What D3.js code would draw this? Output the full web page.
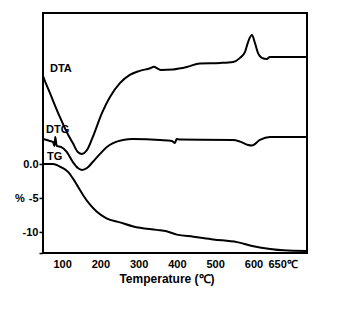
<!DOCTYPE html>
<html lang="en">
<head>
  <meta charset="UTF-8">
  <title>DTA / DTG / TG</title>
  <script src="https://d3js.org/d3.v7.min.js"></script>
  <style>
    body { margin: 0; background: #fff; font-family: "Liberation Sans", Arial, sans-serif; }
    .lbl { font-weight: bold; font-size: 11px; fill: #000; }
    .axis text { font-family: "Liberation Sans", Arial, sans-serif; font-weight: bold; font-size: 11px; fill: #000; }
    .curve { fill: none; stroke: #000; stroke-width: 2; stroke-linejoin: round; }
  </style>
</head>
<body>
  <div id="chart"></div>
  <script>
    // temperature (°C) and signal values
    const dtaT = [50, 52, 68, 94, 112, 128, 141, 152, 165, 180, 204, 225, 251, 277, 301, 330, 340, 350, 358, 390, 426, 460, 513, 547, 565, 578, 586, 596, 604, 612, 622, 635, 643, 740];
    const dtaV = [73.8, 72.9, 66.7, 56.7, 50.4, 45.8, 42.1, 41.3, 42.9, 48.3, 58.3, 65, 70.8, 74.2, 75.8, 77, 77.6, 76.8, 76.3, 76.5, 77.5, 79, 79.2, 79.6, 81.3, 83.8, 87.9, 90.8, 87.5, 83.3, 81.3, 80.8, 81.7, 81.7];

    const dtgT = [50, 68, 76, 80, 82, 86, 97, 112, 128, 141, 152, 165, 180, 199, 217, 233, 259, 285, 356, 387, 395, 399, 408, 547, 565, 586, 596, 617, 643, 740];
    const dtgV = [47.5, 46.7, 46.3, 44.6, 48.3, 44.6, 44.2, 42.1, 37.9, 35.4, 34.6, 35.4, 37.9, 41.3, 44.2, 45.8, 47.1, 47.5, 47.1, 46.7, 45.8, 47.5, 47.3, 47.1, 46.4, 45, 44.8, 47.1, 48.3, 48.3];

    const tgT = [50, 76, 98, 116, 129, 142, 155, 173, 190, 216, 251, 286, 347, 373, 400, 443, 495, 557, 600, 644, 679, 740];
    const tgV = [0, 0, -0.5, -1.2, -2.2, -3.4, -4.6, -6, -7, -8, -8.6, -9.2, -9.7, -9.9, -10.4, -10.7, -11.1, -11.5, -12.1, -12.5, -12.7, -12.8];

    const xTicks = [100, 200, 300, 400, 500, 600, 650];
    const yTicks = [0, -5, -10];

    const W = 353, H = 315;
    const frame = { left: 43, right: 307, top: 13, bottom: 253 };

    const svg = d3.select("#chart").append("svg")
      .attr("width", W)
      .attr("height", H);

    const x = d3.scaleLinear().domain([50, 740]).range([frame.left, frame.right]);
    const yTG = d3.scaleLinear().domain([-13.1, 22.2]).range([frame.bottom, frame.top]);
    // DTA and DTG in arbitrary units
    const yArb = d3.scaleLinear().domain([0, 100]).range([frame.bottom, frame.top]);

    // Y axis (TG %)
    const yAxis = svg.append("g")
      .attr("class", "axis")
      .attr("transform", `translate(${frame.left},0)`)
      .call(d3.axisLeft(yTG).tickValues(yTicks.concat([-13.1])).tickSize(3.5).tickPadding(1)
        .tickFormat(d => d === 0 ? "0.0" : (d === -13.1 ? "" : String(d))));
    yAxis.select(".domain").remove();
    yAxis.selectAll(".tick line").attr("stroke", "#000").attr("stroke-width", 1.5);

    svg.append("text")
      .attr("class", "lbl")
      .attr("x", 15)
      .attr("y", yTG(-5) + 4)
      .text("%");

    // X axis, labels only
    const xAxis = svg.append("g")
      .attr("class", "axis")
      .attr("transform", `translate(0,${frame.bottom})`)
      .call(d3.axisBottom(x).tickValues(xTicks).tickSize(0).tickPadding(7)
        .tickFormat(d => d === 650 ? "650℃" : String(d)));
    xAxis.select(".domain").remove();
    xAxis.selectAll(".tick text").filter(d => d === 650).attr("dx", 10);

    svg.append("text")
      .attr("class", "lbl")
      .style("font-size", "12px")
      .attr("x", (frame.left + frame.right) / 2 - 8)
      .attr("y", 283)
      .attr("text-anchor", "middle")
      .text("Temperature (℃)");

    // curves
    const line = (xs, ys, yScale) => d3.line()
      .x((d, i) => x(xs[i]))
      .y(d => yScale(d))
      .curve(d3.curveMonotoneX)(ys);

    svg.append("path").attr("class", "curve").attr("d", line(dtaT, dtaV, yArb));
    svg.append("path").attr("class", "curve").attr("d", line(dtgT, dtgV, yArb));
    svg.append("path").attr("class", "curve").attr("d", line(tgT, tgV, yTG));

    // frame
    svg.append("rect")
      .attr("x", frame.left)
      .attr("y", frame.top)
      .attr("width", frame.right - frame.left)
      .attr("height", frame.bottom - frame.top)
      .attr("fill", "none")
      .attr("stroke", "#000")
      .attr("stroke-width", 2);

    // curve names
    svg.append("text").attr("class", "lbl").attr("x", 50).attr("y", 72).text("DTA");
    svg.append("text").attr("class", "lbl").attr("x", 46).attr("y", 133).text("DTG");
    svg.append("text").attr("class", "lbl").attr("x", 47).attr("y", 160).text("TG");
  </script>
</body>
</html>
